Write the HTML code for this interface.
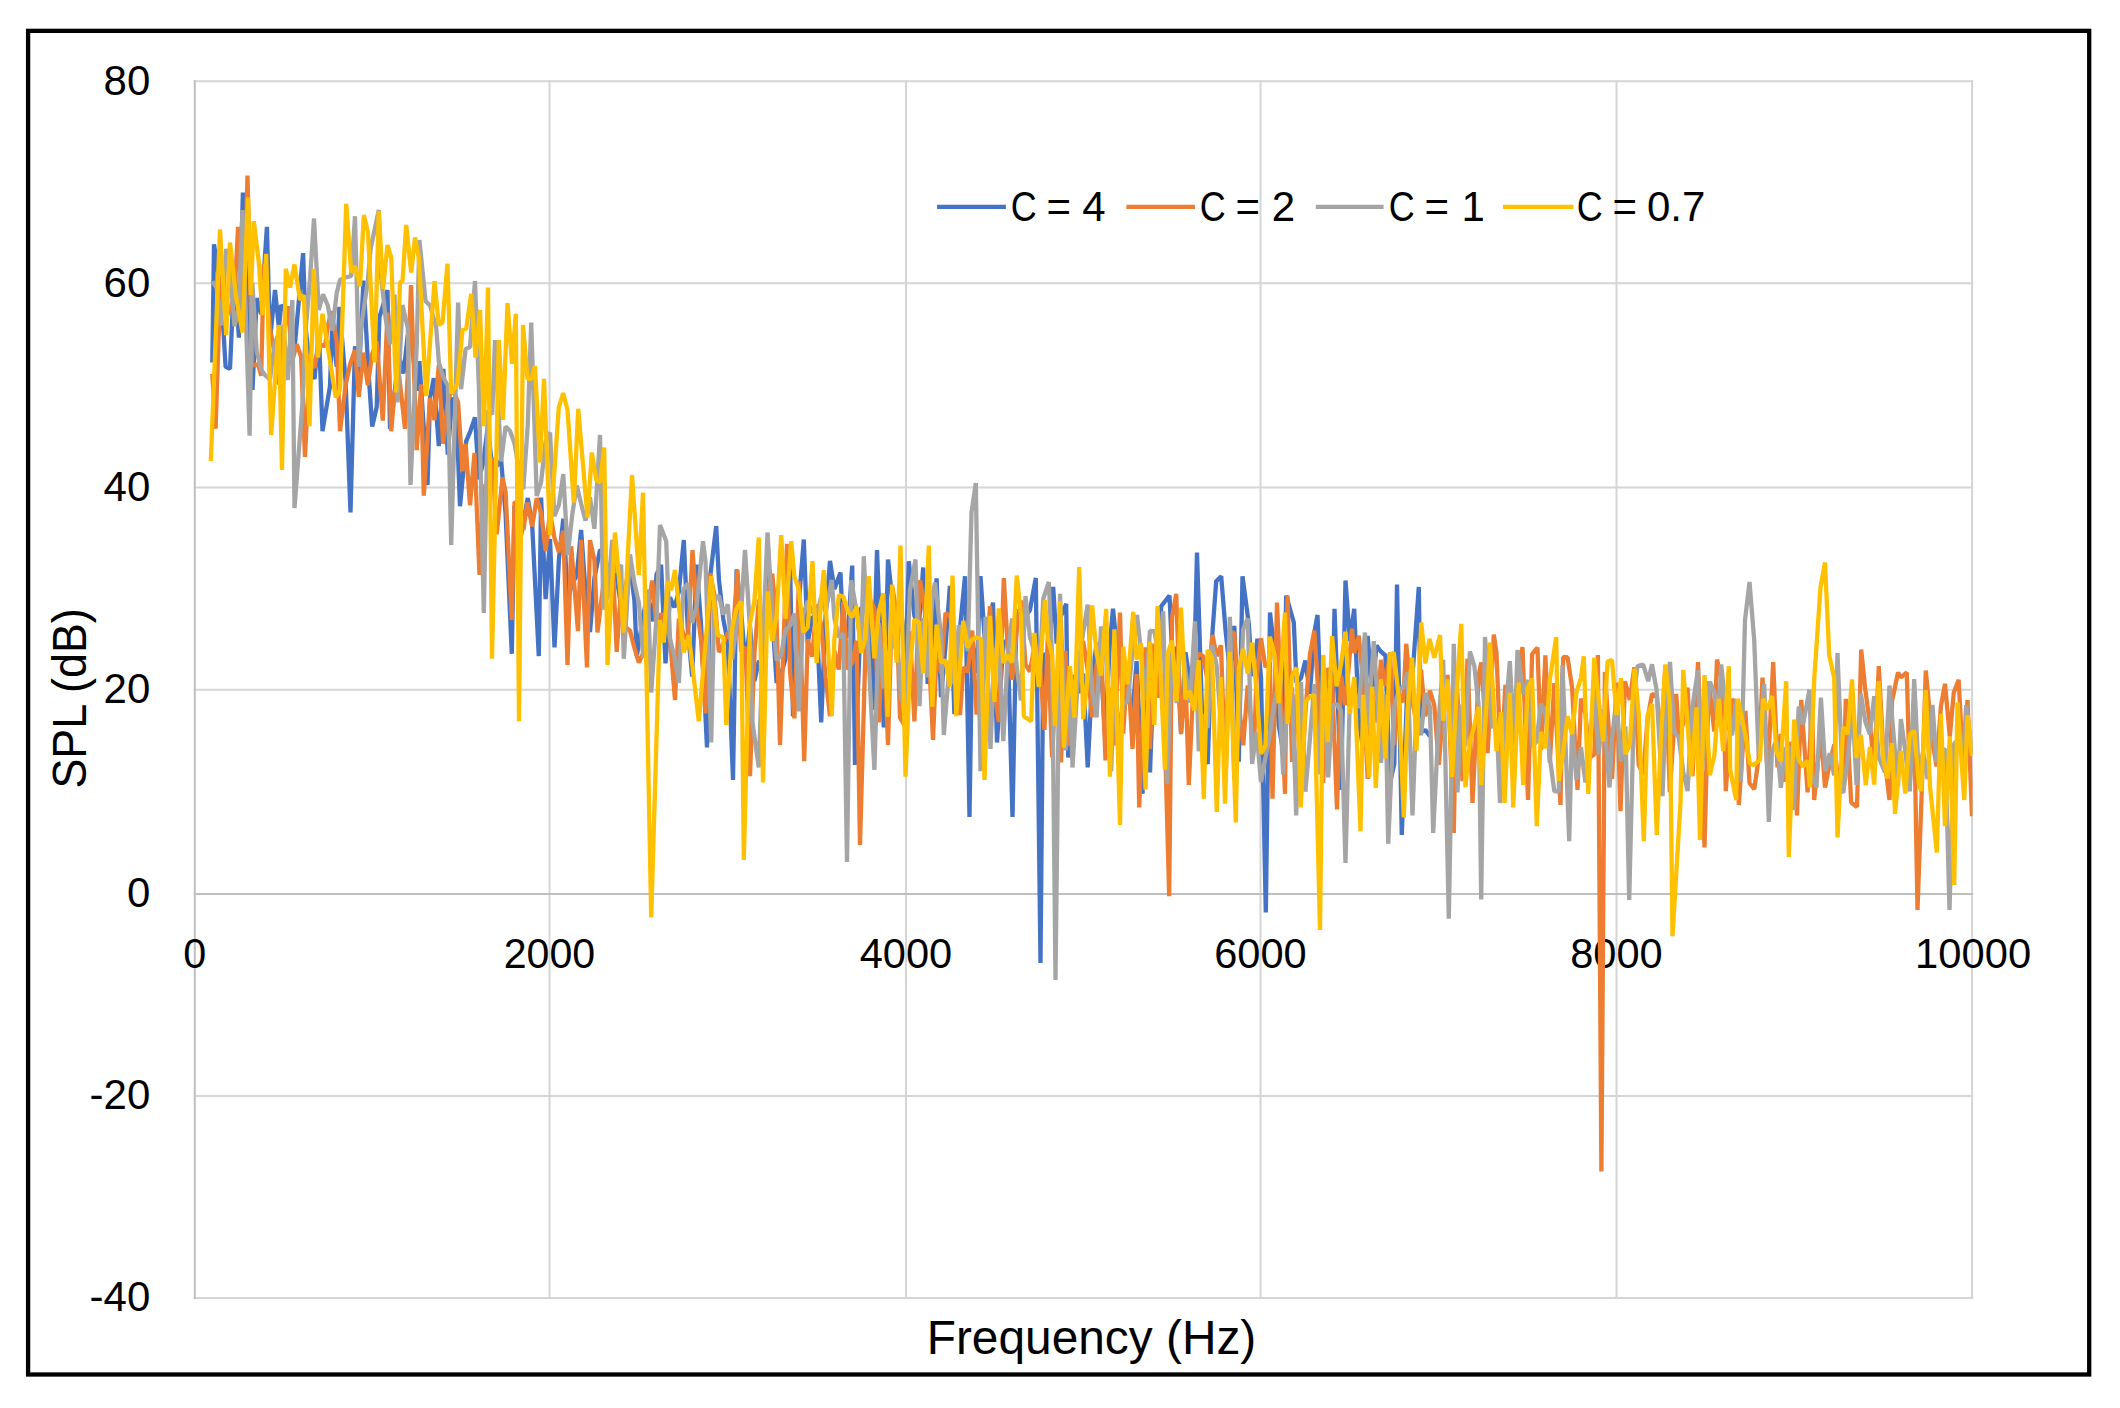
<!DOCTYPE html>
<html><head><meta charset="utf-8"><title>SPL vs Frequency</title>
<style>
html,body{margin:0;padding:0;background:#fff;}
body{width:2120px;height:1408px;overflow:hidden;font-family:"Liberation Sans",sans-serif;}
svg{display:block;}
text{font-family:"Liberation Sans",sans-serif;fill:#000;}
.tick text{font-size:42px;}
.leg text{font-size:42px;}
.title{font-size:48px;}
.grid line{stroke:#d5d5d5;stroke-width:2;}
.data polyline{fill:none;stroke-width:4.3;stroke-linejoin:bevel;stroke-linecap:butt;}
</style></head><body>
<svg width="2120" height="1408" viewBox="0 0 2120 1408">
<rect x="0" y="0" width="2120" height="1408" fill="#fff"/>
<rect x="28.1" y="30.85" width="2061.1" height="1343.65" fill="#fff" stroke="#000" stroke-width="4.3"/>
<g class="grid"><line x1="549.5" y1="80.3" x2="549.5" y2="1298.9"/><line x1="906.0" y1="80.3" x2="906.0" y2="1298.9"/><line x1="1260.5" y1="80.3" x2="1260.5" y2="1298.9"/><line x1="1616.5" y1="80.3" x2="1616.5" y2="1298.9"/><line x1="1972.1" y1="80.3" x2="1972.1" y2="1298.9"/><line x1="193.8" y1="81.25" x2="1973.1" y2="81.25"/><line x1="193.8" y1="283.3" x2="1973.1" y2="283.3"/><line x1="193.8" y1="487.5" x2="1973.1" y2="487.5"/><line x1="193.8" y1="689.7" x2="1973.1" y2="689.7"/><line x1="193.8" y1="1096.0" x2="1973.1" y2="1096.0"/><line x1="193.8" y1="1297.9" x2="1973.1" y2="1297.9"/>
<line x1="193.8" y1="894" x2="1973.1" y2="894" style="stroke:#bfbfbf;stroke-width:2"/>
<line x1="194.8" y1="80.3" x2="194.8" y2="1298.9" style="stroke:#bfbfbf;stroke-width:2"/>
</g>
<g class="tick"><text x="150.3" y="1311.1" text-anchor="end">-40</text><text x="150.3" y="1109.2" text-anchor="end">-20</text><text x="150.3" y="907.2" text-anchor="end">0</text><text x="150.3" y="702.9" text-anchor="end">20</text><text x="150.3" y="500.7" text-anchor="end">40</text><text x="150.3" y="296.5" text-anchor="end">60</text><text x="150.3" y="94.5" text-anchor="end">80</text><text x="194.8" y="968.3" text-anchor="middle" textLength="23" lengthAdjust="spacingAndGlyphs">0</text><text x="549.5" y="968.3" text-anchor="middle" textLength="91.5" lengthAdjust="spacingAndGlyphs">2000</text><text x="906.0" y="968.3" text-anchor="middle" textLength="92.5" lengthAdjust="spacingAndGlyphs">4000</text><text x="1260.5" y="968.3" text-anchor="middle" textLength="92.5" lengthAdjust="spacingAndGlyphs">6000</text><text x="1616.5" y="968.3" text-anchor="middle" textLength="92.5" lengthAdjust="spacingAndGlyphs">8000</text><text x="1973.1" y="968.3" text-anchor="middle" textLength="116" lengthAdjust="spacingAndGlyphs">10000</text></g>
<clipPath id="pc"><rect x="194.5" y="60" width="1778" height="1240"/></clipPath><g class="data" clip-path="url(#pc)">
<polyline points="212.3,362.5 214.0,244.4 221.2,292.7 225.6,366.8 230.0,368.8 234.5,267.7 238.9,337.7 242.9,192.5 247.8,302.4 252.5,390.0 256.7,298.1 261.2,314.2 266.9,226.9 270.0,340.3 275.0,290.0 278.9,327.7 281.2,305.0 287.8,314.2 292.3,335.4 295.0,343.8 303.1,253.1 305.6,327.6 310.0,366.8 314.5,379.1 318.9,332.3 322.5,431.2 330.0,386.2 332.3,323.2 336.7,366.9 339.4,306.9 345.6,381.3 350.5,512.5 355.0,346.2 358.9,375.2 363.5,280.6 368.1,366.2 372.2,426.5 376.7,406.9 379.4,317.5 387.5,290.0 390.0,429.0 394.5,392.8 398.9,356.0 403.4,373.5 407.8,335.0 412.2,344.8 416.7,390.7 419.4,361.2 427.5,485.0 430.0,397.9 433.8,378.1 438.8,446.2 443.4,368.9 447.8,454.6 452.2,397.5 456.7,422.1 460.0,506.2 466.2,441.2 470.0,432.1 475.0,417.5 478.9,479.3 483.3,462.4 487.8,426.5 492.2,467.0 496.7,466.1 501.1,459.8 505.6,513.8 511.8,653.8 514.5,505.9 518.9,547.9 523.3,521.8 527.8,498.0 532.2,525.6 538.8,656.2 541.1,497.6 545.6,599.2 550.0,539.0 554.5,647.5 558.9,559.8 563.3,518.7 567.8,599.7 572.2,582.9 576.7,576.0 581.1,530.0 585.5,591.4 590.0,632.2 594.4,577.8 600.0,550.0 603.3,551.3 607.8,596.9 612.2,548.4 616.7,578.0 621.1,605.9 625.5,586.5 630.0,565.4 634.4,600.3 636.8,656.2 643.3,615.1 647.8,593.5 652.2,621.4 656.6,574.2 661.1,564.9 665.5,663.3 670.0,597.4 674.4,607.5 678.9,591.4 683.8,540.0 687.8,629.3 692.2,676.6 696.6,564.6 701.1,626.0 707.0,747.5 710.0,577.9 716.2,526.2 718.9,579.3 723.3,619.1 727.8,643.0 733.0,780.0 736.6,569.4 741.1,611.6 745.5,664.7 750.0,626.3 754.4,681.0 758.9,660.7 763.3,674.4 767.7,570.7 772.2,614.9 776.6,682.9 781.1,674.3 785.5,658.6 790.0,560.1 793.0,716.2 798.9,601.8 803.8,539.5 807.7,643.2 812.2,616.8 816.6,618.3 821.2,722.5 825.5,617.2 830.0,560.9 834.4,589.1 840.5,572.5 843.3,635.6 847.7,636.5 852.2,565.6 855.0,765.0 861.1,607.9 865.5,607.6 870.0,624.1 872.5,710.0 877.0,550.0 883.8,727.5 888.0,559.5 892.2,598.5 896.6,650.7 901.1,605.8 905.5,667.7 908.8,561.2 914.4,615.9 918.8,626.4 923.2,567.5 927.7,684.0 932.2,649.6 936.6,578.3 941.0,697.1 945.5,646.0 949.9,585.9 954.4,714.1 958.8,640.7 965.0,576.2 969.5,817.0 972.2,642.0 976.6,673.2 980.5,576.2 985.5,650.7 989.9,620.8 993.0,602.5 997.0,742.5 1003.3,642.9 1007.7,640.0 1012.5,817.0 1016.6,610.3 1021.0,616.9 1025.0,617.0 1029.9,610.3 1035.8,578.0 1040.5,963.0 1043.3,652.9 1047.7,668.4 1053.2,587.0 1056.6,643.7 1061.0,616.0 1066.2,603.8 1068.2,757.5 1074.4,675.0 1078.8,692.9 1083.2,673.5 1087.7,767.5 1092.1,680.2 1096.6,642.6 1101.0,663.9 1105.0,736.2 1109.9,643.7 1113.0,608.8 1118.8,667.7 1123.2,660.2 1127.7,687.1 1132.1,718.7 1136.6,661.2 1142.5,793.8 1145.5,678.8 1150.0,772.5 1154.3,655.7 1158.8,661.5 1161.2,606.2 1169.5,595.5 1172.1,652.6 1176.6,647.7 1181.0,732.4 1185.5,652.3 1189.9,681.6 1194.3,661.2 1197.0,552.5 1203.2,750.1 1207.7,764.0 1212.1,637.6 1216.2,581.2 1221.2,576.2 1225.5,629.8 1229.9,671.9 1234.3,625.9 1238.8,761.6 1242.5,576.2 1248.8,623.8 1252.1,676.2 1257.5,638.8 1261.0,677.1 1265.8,912.5 1270.0,612.5 1274.3,650.6 1278.8,725.4 1283.2,751.8 1286.2,595.5 1293.8,622.5 1296.5,683.0 1301.0,678.0 1305.4,660.6 1309.9,693.9 1314.3,632.8 1317.5,615.0 1323.2,765.3 1327.7,699.3 1332.1,727.4 1334.5,608.8 1341.0,789.8 1345.5,580.5 1349.9,641.1 1354.2,608.8 1358.8,718.7 1363.2,750.2 1367.7,635.8 1372.1,694.8 1376.5,645.6 1381.0,651.7 1385.4,655.5 1389.9,783.4 1394.3,763.8 1397.0,584.5 1401.8,835.0 1407.6,678.8 1412.1,681.1 1418.8,587.0 1421.0,732.0 1425.4,730.1 1429.9,736.3" stroke="#4472C4"/>
<polyline points="212.3,373.8 215.6,428.8 220.6,276.2 225.6,319.2 230.1,308.6 234.4,297.5 238.1,226.9 243.4,328.8 247.5,175.6 252.3,365.5 258.1,364.4 261.2,375.7 263.8,263.8 270.0,328.7 274.5,352.6 278.9,384.5 283.4,331.8 287.8,306.2 292.5,360.0 296.7,344.2 301.1,356.5 305.0,456.9 310.0,353.7 314.5,368.2 318.9,344.0 325.0,346.2 327.8,326.7 331.2,311.2 336.7,341.1 340.0,431.2 345.6,385.4 350.0,364.6 355.0,350.0 358.8,396.9 363.4,352.6 367.8,385.1 372.2,353.8 376.7,341.3 382.8,420.6 387.5,312.5 391.2,431.2 394.5,393.5 398.9,373.7 405.0,428.8 407.8,373.1 411.0,285.0 416.7,450.2 421.1,384.3 423.8,495.6 430.0,397.9 434.4,420.0 438.8,365.0 443.1,443.8 447.8,401.4 452.2,387.5 458.1,402.5 462.5,471.2 465.6,443.8 470.0,505.2 474.5,453.0 479.5,575.0 483.3,487.0 487.8,484.0 492.2,457.7 496.7,534.2 502.5,477.5 505.6,491.9 511.8,620.0 514.5,502.1 518.9,503.4 523.3,530.1 527.5,502.5 532.2,526.4 536.7,498.2 541.1,512.9 545.6,550.9 550.0,511.7 554.4,537.6 558.9,552.2 563.3,530.6 567.5,665.0 571.2,546.2 578.0,631.2 581.1,539.9 587.0,667.5 590.0,540.1 594.4,560.1 597.5,632.5 603.3,584.7 607.8,593.6 612.2,552.2 616.7,651.9 621.1,589.5 625.5,627.0 630.0,630.6 634.4,647.8 638.9,662.7 643.3,652.9 647.8,611.1 652.2,580.5 656.6,627.8 661.1,613.3 665.5,622.6 670.0,638.8 675.0,700.0 678.9,618.7 683.3,633.3 687.8,641.5 692.5,550.0 696.6,606.7 701.1,640.2 705.5,713.5 710.0,573.2 714.4,594.6 718.9,652.1 723.3,644.1 727.8,632.5 732.2,642.4 737.5,570.0 741.1,651.7 745.5,647.1 750.0,776.2 754.4,653.1 758.9,599.8 763.3,651.3 767.7,593.5 772.2,573.8 776.6,620.5 780.0,745.0 787.0,543.8 790.0,671.6 794.4,718.4 798.9,581.0 804.2,761.2 807.7,639.2 812.2,656.6 816.6,604.4 821.1,624.2 825.5,676.5 830.0,716.2 834.4,651.0 838.8,669.6 843.3,602.5 847.7,669.5 852.2,662.9 856.6,640.7 860.0,845.0 865.5,647.9 870.0,599.7 874.4,608.5 878.8,722.5 883.3,625.2 888.0,745.0 892.5,587.5 896.6,614.2 900.0,717.5 907.0,730.0 909.9,631.3 914.4,721.3 920.0,580.0 923.3,599.3 927.7,629.5 933.0,740.0 936.6,653.0 941.0,673.4 945.5,613.1 949.9,615.3 954.4,641.7 960.0,715.0 963.3,667.1 967.7,672.0 972.2,630.6 976.6,714.6 981.0,674.3 985.5,671.4 990.0,606.2 994.4,689.8 998.8,722.0 1003.8,578.0 1007.7,647.6 1012.1,679.7 1016.6,632.2 1021.0,600.5 1025.5,664.3 1029.9,671.6 1034.4,646.3 1038.8,647.5 1044.5,730.0 1047.7,638.5 1052.1,757.3 1056.6,669.3 1061.0,762.5 1065.5,650.8 1069.9,745.8 1074.4,704.8 1078.8,657.9 1083.2,641.0 1087.7,670.2 1092.1,717.3 1096.6,665.4 1101.0,645.5 1105.5,760.4 1109.9,687.6 1114.4,745.5 1120.0,612.5 1123.2,733.6 1127.7,663.0 1132.5,748.8 1136.6,674.1 1139.2,807.5 1145.5,647.3 1149.9,749.0 1154.3,643.5 1158.8,697.7 1163.2,674.3 1169.2,896.2 1172.1,617.0 1176.2,593.8 1181.0,734.2 1185.5,677.0 1188.8,785.0 1194.3,664.6 1198.8,653.7 1203.2,656.1 1207.7,681.9 1212.5,635.0 1216.6,656.2 1221.0,645.4 1225.5,780.6 1230.0,632.5 1234.3,632.8 1238.8,703.2 1243.2,745.3 1247.7,685.4 1253.8,750.0 1256.6,678.3 1261.0,638.2 1265.4,667.1 1269.9,662.2 1272.5,798.8 1277.0,602.5 1285.0,793.8 1287.5,595.5 1292.1,761.9 1296.5,694.4 1301.0,790.5 1305.4,712.2 1309.9,654.9 1314.3,630.7 1318.8,700.9 1323.2,782.8 1327.7,668.0 1332.1,680.4 1337.0,809.5 1341.0,675.8 1345.4,705.2 1352.0,628.8 1354.3,653.1 1358.8,635.8 1363.2,683.2 1367.7,779.0 1372.1,689.8 1376.5,722.4 1381.0,659.9 1385.4,685.9 1390.0,652.5 1394.3,744.7 1398.8,693.7 1403.2,702.2 1406.2,643.8 1412.1,701.8 1416.5,721.1 1421.0,669.7 1425.4,716.4 1429.9,690.7 1434.3,705.4 1438.8,764.9 1443.2,709.4 1447.6,674.9 1453.8,833.0 1456.5,678.6 1462.5,781.2 1467.5,658.8 1469.9,724.8 1472.5,803.0 1478.7,675.4 1481.2,662.5 1487.6,753.2 1493.8,634.5 1496.5,652.9 1501.0,768.5 1505.4,684.8 1509.8,714.6 1514.3,707.1 1518.7,672.1 1522.5,647.0 1528.0,800.0 1532.1,654.0 1537.5,647.5 1541.0,750.1 1545.4,655.3 1549.8,762.7 1554.3,683.1 1560.5,805.0 1563.2,657.0 1567.6,657.5 1572.1,687.6 1577.5,790.0 1581.0,698.5 1585.4,713.5 1589.8,757.7 1594.3,754.3 1597.9,655.0 1601.4,1171.4 1604.9,672.0 1612.1,779.0 1616.5,682.5 1620.5,811.2 1625.0,681.2 1629.8,699.9 1634.3,667.3 1638.7,764.9 1643.2,774.8 1647.6,718.3 1652.0,694.0 1657.0,696.2 1660.9,743.9 1665.4,665.0 1669.8,792.2 1676.2,693.8 1678.7,735.8 1683.2,723.4 1687.5,687.5 1692.5,776.2 1698.0,662.0 1700.9,734.6 1704.5,847.5 1708.8,681.2 1714.3,731.6 1717.0,659.5 1723.2,685.7 1725.8,791.2 1732.0,700.0 1736.5,701.2 1738.8,805.0 1745.4,710.9 1749.5,783.0 1754.3,789.2 1758.7,758.1 1762.5,677.5 1767.6,775.1 1773.2,662.0 1777.5,767.5 1780.9,734.0 1785.4,781.7 1789.8,742.3 1794.2,753.1 1797.0,815.5 1801.2,700.0 1807.6,792.3 1812.0,704.3 1814.2,800.0 1820.9,732.1 1825.0,787.5 1829.8,763.2 1834.2,744.4 1838.7,784.8 1843.1,793.0 1845.8,698.8 1851.2,802.5 1857.0,807.0 1861.2,649.5 1865.3,689.8 1869.8,722.9 1874.2,767.5 1878.8,666.2 1883.1,746.7 1889.5,800.0 1892.0,701.2 1898.0,672.5 1900.9,677.3 1906.8,672.5 1909.8,782.1 1914.2,722.6 1917.5,910.0 1923.1,753.0 1925.8,670.5 1932.0,737.3 1936.5,766.4 1940.9,706.3 1945.0,683.8 1949.8,736.5 1953.8,692.5 1958.7,679.9 1963.1,764.3 1967.5,700.0 1972.0,816.2" stroke="#ED7D31"/>
<polyline points="212.3,281.4 216.7,287.8 221.2,325.4 226.2,248.8 230.1,272.3 234.5,326.4 238.9,306.8 242.5,210.0 249.6,435.6 252.3,282.9 256.7,351.4 261.2,369.8 265.6,375.7 270.0,379.5 274.5,344.3 278.9,333.0 283.4,326.1 287.8,380.0 292.3,300.1 294.5,508.0 302.5,402.5 305.6,330.0 310.0,279.1 314.0,218.5 318.8,310.0 323.1,294.4 327.8,305.5 332.3,330.7 336.7,293.0 340.0,280.0 345.6,277.4 351.2,276.2 355.0,216.2 358.9,366.8 361.2,326.2 367.8,281.1 370.6,248.8 378.8,210.0 381.1,277.0 385.6,318.2 390.0,344.1 394.5,294.6 397.5,402.5 402.5,305.0 407.8,328.0 410.5,485.0 416.7,346.1 419.4,240.0 425.6,301.2 430.0,305.4 436.2,327.5 438.9,362.7 443.4,377.3 447.8,386.1 451.2,545.0 458.1,302.5 461.1,389.3 465.6,349.2 470.0,346.9 475.0,281.2 478.9,387.6 483.8,613.0 487.8,410.2 492.2,414.5 495.0,340.0 501.1,461.5 505.6,426.5 510.0,430.9 514.5,443.4 518.9,468.6 523.3,489.4 527.8,424.1 531.2,322.5 536.7,496.0 541.1,482.0 545.6,441.7 550.0,432.5 554.4,516.1 558.9,504.8 563.3,474.0 567.8,554.8 572.2,515.0 576.7,485.5 581.1,503.8 585.5,520.7 590.0,497.3 594.4,528.8 600.0,435.0 603.3,609.4 607.8,595.3 612.2,539.8 616.7,572.8 621.1,564.7 623.8,658.8 630.0,554.4 634.4,582.9 638.9,603.1 643.3,657.9 647.8,589.3 651.2,692.5 656.6,616.5 660.0,525.0 666.2,541.2 670.0,638.9 674.4,656.6 678.9,682.9 683.3,589.4 687.8,583.6 692.2,622.9 696.6,606.0 703.0,541.2 705.5,561.4 711.2,742.5 714.4,600.6 718.9,595.5 723.3,614.5 727.8,604.5 732.2,659.2 736.6,624.4 741.1,612.3 745.0,550.0 750.0,628.6 752.5,722.5 758.8,767.5 763.3,631.6 767.5,532.5 772.2,612.6 776.6,660.4 781.1,655.0 785.5,630.0 790.0,625.8 794.4,613.5 798.9,711.3 803.3,614.6 807.7,601.0 812.2,611.7 816.6,616.8 821.1,597.0 825.5,611.4 831.8,580.0 834.4,618.3 838.8,637.3 843.3,633.5 847.0,862.0 851.2,580.0 856.6,611.3 861.1,648.9 863.8,556.2 870.0,685.4 874.4,770.0 878.8,623.2 883.3,688.3 887.7,655.8 892.2,646.1 896.6,632.8 901.1,699.1 905.5,704.9 909.9,591.0 915.5,559.5 919.5,706.2 923.3,617.8 927.7,677.3 932.2,598.4 935.0,582.5 941.0,635.1 943.8,735.0 949.9,660.3 954.4,683.8 958.8,625.4 963.3,634.4 967.7,651.0 971.5,512.5 975.8,483.0 980.5,771.2 985.5,616.7 990.5,748.8 994.4,652.0 998.8,644.2 1003.3,741.1 1007.7,655.8 1012.1,618.4 1016.6,666.1 1021.0,700.5 1025.5,596.0 1029.9,637.0 1034.4,652.0 1038.8,685.7 1043.3,598.6 1048.8,582.0 1052.1,657.2 1055.5,980.0 1060.0,593.8 1065.5,750.3 1069.9,670.6 1072.5,767.5 1078.8,663.5 1083.2,632.1 1087.7,604.7 1092.1,690.3 1096.6,717.3 1101.0,626.6 1105.5,641.6 1111.2,771.2 1114.4,670.7 1118.8,732.5 1123.2,704.1 1127.7,701.5 1132.1,655.1 1137.0,615.0 1141.0,651.2 1145.5,700.1 1149.9,630.9 1154.3,631.2 1158.8,655.4 1163.2,611.2 1167.0,783.8 1172.1,647.8 1176.6,703.1 1181.0,634.1 1185.5,671.7 1189.9,702.7 1195.0,621.2 1198.8,751.2 1203.2,714.3 1207.7,728.0 1212.1,644.9 1216.6,665.1 1221.0,724.6 1225.5,762.6 1229.9,616.9 1234.3,779.5 1238.8,722.1 1243.2,629.4 1247.7,618.4 1252.1,763.9 1256.6,731.9 1261.0,782.0 1265.4,757.6 1269.9,734.6 1274.3,702.9 1278.8,683.9 1283.2,774.4 1287.7,699.1 1292.1,687.3 1296.2,815.5 1301.0,682.1 1305.4,791.7 1309.9,738.8 1314.3,684.1 1318.8,774.5 1323.2,669.7 1328.2,777.5 1332.1,705.7 1336.5,704.0 1341.0,710.7 1345.5,863.0 1349.9,694.0 1354.3,690.4 1358.8,708.0 1365.0,632.5 1367.7,726.6 1373.8,641.2 1376.5,684.3 1381.0,762.8 1385.4,694.7 1388.2,843.8 1394.3,706.7 1398.8,690.7 1403.2,686.8 1407.6,672.3 1412.5,815.5 1416.5,707.2 1421.0,735.3 1425.4,693.0 1429.9,706.5 1433.2,833.0 1438.8,719.1 1443.2,659.8 1448.8,918.8 1453.8,643.8 1457.5,792.5 1461.0,704.5 1465.4,746.3 1469.9,651.5 1474.3,665.6 1478.7,706.2 1481.2,899.5 1485.0,637.0 1492.1,728.2 1496.5,718.8 1500.0,803.0 1505.4,715.6 1509.8,661.1 1514.3,745.8 1517.5,650.0 1523.2,694.2 1527.6,679.9 1532.1,746.5 1536.5,741.6 1541.0,703.5 1545.4,714.4 1549.8,757.2 1554.3,791.1 1558.7,791.6 1562.5,665.0 1569.2,841.2 1572.1,725.2 1576.5,779.8 1581.0,747.2 1585.4,782.4 1589.8,742.4 1594.3,694.5 1598.7,754.4 1603.2,709.4 1609.5,787.5 1612.1,736.8 1616.5,700.7 1620.9,761.4 1625.4,726.4 1629.2,900.0 1634.3,691.2 1637.5,666.2 1643.2,664.7 1648.2,681.2 1652.0,664.3 1656.5,689.6 1662.5,796.2 1665.4,717.6 1670.0,662.0 1674.3,732.5 1678.7,736.9 1683.2,771.6 1687.6,791.1 1692.0,709.6 1698.0,670.0 1700.9,783.2 1705.4,730.2 1709.8,681.8 1714.3,691.9 1718.7,726.2 1721.2,664.5 1727.6,726.9 1732.0,735.3 1736.5,699.6 1740.9,781.7 1745.0,620.0 1749.5,582.0 1754.2,640.0 1758.7,756.3 1764.2,683.8 1768.8,822.0 1772.0,751.2 1776.5,740.1 1780.9,787.8 1785.4,749.0 1789.8,747.3 1793.8,810.0 1798.7,706.5 1803.1,724.4 1809.5,689.5 1812.0,775.1 1816.5,787.6 1820.9,697.6 1825.4,771.4 1829.8,753.2 1834.2,775.3 1837.5,653.0 1843.1,793.0 1847.6,761.8 1852.5,705.0 1856.5,784.8 1860.9,693.8 1865.3,721.6 1869.8,734.2 1874.2,696.2 1878.7,757.3 1885.0,772.5 1889.5,685.5 1892.0,716.1 1898.0,786.2 1900.9,719.0 1905.3,751.4 1909.8,791.4 1914.2,679.2 1918.7,773.4 1923.1,752.1 1927.6,779.2 1932.5,705.0 1936.5,762.0 1940.9,748.9 1945.3,749.9 1949.5,910.0 1954.2,743.5 1958.7,739.3 1963.1,763.2 1966.2,705.0 1972.0,753.6" stroke="#A5A5A5"/>
<polyline points="210.8,461.2 220.0,229.5 226.2,335.0 230.0,242.5 236.2,297.5 242.5,332.5 248.0,197.5 250.8,295.0 253.8,221.2 258.8,262.5 262.5,315.0 266.2,253.8 271.2,435.0 278.8,325.0 282.0,470.0 285.8,268.8 290.0,287.5 294.5,264.5 300.0,300.0 303.8,295.0 309.5,426.2 313.8,268.8 318.0,357.5 322.5,313.8 335.8,397.5 340.0,390.0 346.2,203.8 351.2,272.5 355.0,266.2 360.0,286.2 363.8,215.0 368.0,232.5 374.5,362.5 378.8,211.2 383.0,288.8 387.5,245.0 391.2,257.5 396.2,392.5 400.0,282.5 402.5,281.2 406.2,225.0 411.2,272.5 415.0,237.5 418.8,257.5 426.2,396.2 434.5,281.2 438.8,325.0 442.5,322.5 447.5,263.8 451.2,393.8 457.5,383.8 462.5,330.0 466.2,328.8 471.2,293.8 475.5,357.5 480.0,310.0 484.0,426.2 488.0,287.5 492.0,658.8 498.8,340.0 503.0,420.0 507.5,303.0 512.0,363.8 515.8,313.8 519.0,721.2 523.0,325.0 527.5,378.8 531.2,378.8 535.0,366.2 540.0,462.5 544.0,378.8 550.0,535.0 558.8,407.5 563.2,393.0 567.5,410.0 573.8,502.5 578.2,408.8 587.5,517.5 591.8,452.5 596.2,480.0 600.0,482.5 604.2,447.5 607.5,665.0 615.0,532.5 623.8,632.5 632.0,475.0 638.8,575.0 643.0,492.5 651.2,917.5 660.0,620.0 663.8,642.5 667.5,581.2 671.2,590.0 675.0,570.0 683.8,652.5 688.8,635.0 698.8,721.2 711.2,576.2 717.5,635.0 723.3,637.2 726.2,725.0 732.2,628.4 736.6,608.5 741.1,601.5 743.8,860.0 750.0,623.2 754.4,601.0 758.8,537.5 763.0,782.5 767.7,591.5 772.2,640.7 776.6,615.6 781.2,535.0 785.5,618.8 791.2,541.2 794.4,576.6 798.9,589.7 803.3,632.2 807.7,627.4 812.5,561.2 816.6,663.0 821.1,600.7 823.8,570.0 831.8,716.2 834.4,639.3 838.8,595.1 843.3,596.7 847.7,610.9 852.2,617.2 856.6,606.7 861.1,653.0 865.5,638.4 868.8,576.2 874.4,658.4 878.8,611.4 883.3,593.3 887.7,717.0 892.2,584.6 896.6,662.7 900.5,545.5 905.5,776.7 909.9,670.0 914.4,619.5 918.8,622.2 923.3,673.3 928.8,545.5 932.2,706.8 936.6,624.7 941.0,662.4 945.5,660.5 949.9,686.7 952.5,575.5 956.2,716.2 963.3,620.9 967.7,647.5 972.2,639.3 976.6,637.5 981.0,639.1 984.5,780.0 989.9,615.9 994.4,701.9 998.8,608.4 1003.3,663.0 1007.7,655.1 1012.1,662.4 1016.8,575.5 1021.0,615.6 1023.8,716.2 1031.2,721.2 1034.4,632.9 1038.8,687.0 1045.0,600.0 1047.7,637.8 1052.1,654.9 1055.0,726.2 1060.0,601.2 1063.8,747.5 1069.9,666.1 1074.4,717.6 1079.2,567.0 1083.2,719.3 1087.7,677.1 1092.1,605.4 1096.6,653.5 1101.0,675.5 1106.2,608.8 1109.9,776.8 1114.4,629.3 1120.0,825.0 1123.2,646.5 1127.7,684.3 1133.2,612.0 1136.6,659.5 1141.0,643.1 1145.5,789.6 1149.9,641.9 1154.3,725.0 1157.5,606.2 1165.0,770.0 1167.7,653.7 1172.1,640.7 1176.6,701.5 1181.0,607.6 1185.5,699.2 1189.9,691.0 1194.3,710.5 1198.8,660.2 1203.8,798.8 1207.7,649.8 1212.1,658.0 1216.8,812.0 1221.0,677.0 1225.0,803.8 1229.9,651.7 1235.8,822.5 1238.8,668.4 1243.2,649.0 1247.7,673.5 1252.1,642.6 1256.6,690.7 1261.0,753.8 1265.4,745.7 1269.9,636.7 1274.3,654.0 1278.8,703.2 1285.0,612.5 1287.7,723.9 1292.1,675.9 1296.5,667.8 1300.8,807.5 1305.4,701.3 1309.9,696.9 1314.3,694.9 1320.0,930.0 1323.2,654.9 1327.7,741.8 1332.1,636.2 1336.5,686.4 1341.0,664.3 1345.4,631.7 1349.9,714.0 1354.3,677.0 1360.5,831.2 1363.2,694.7 1369.2,777.5 1372.1,686.5 1375.8,788.0 1381.0,679.4 1385.4,758.3 1389.9,655.0 1393.8,652.5 1398.8,697.3 1403.8,817.5 1407.6,707.6 1412.1,657.5 1416.5,750.7 1421.2,622.5 1425.4,663.5 1429.5,638.8 1434.3,657.7 1440.0,635.0 1443.2,720.7 1447.6,679.1 1452.1,777.1 1456.5,695.1 1461.2,623.8 1465.4,787.1 1469.9,742.6 1474.3,725.6 1478.7,706.7 1481.2,785.0 1487.6,688.1 1490.0,642.5 1496.5,751.2 1501.0,712.2 1504.5,803.0 1509.8,692.8 1513.2,807.5 1518.7,682.6 1523.2,785.0 1527.6,688.5 1532.1,678.6 1536.8,826.2 1541.0,731.8 1545.4,748.3 1549.8,680.0 1556.2,637.0 1558.7,780.9 1563.2,752.3 1567.6,716.3 1572.1,734.1 1576.5,691.8 1581.0,677.8 1583.8,656.2 1588.2,793.8 1594.3,657.8 1598.7,700.5 1603.2,741.5 1607.6,661.5 1612.0,660.0 1616.5,715.2 1620.9,678.2 1625.4,754.0 1629.8,744.9 1634.5,668.8 1638.7,713.3 1643.8,841.2 1647.6,715.0 1652.0,704.0 1656.8,835.0 1660.9,738.6 1665.4,664.4 1669.8,703.8 1672.5,936.2 1680.5,802.5 1683.2,669.8 1687.6,723.8 1691.2,776.2 1696.5,707.4 1700.0,840.0 1704.5,675.0 1709.8,775.2 1714.3,755.5 1718.7,698.8 1723.2,751.1 1728.8,666.2 1730.2,770.0 1736.2,800.0 1737.8,698.8 1745.4,734.4 1749.8,763.4 1753.8,765.0 1760.0,760.0 1763.1,698.7 1767.6,709.8 1772.0,695.8 1776.5,751.3 1780.9,761.3 1786.2,681.2 1788.8,857.0 1794.2,719.6 1798.7,759.7 1803.1,766.7 1807.6,760.5 1810.0,787.5 1814.2,679.5 1820.5,587.5 1825.0,562.5 1829.2,655.0 1834.2,678.2 1837.5,837.5 1843.1,727.1 1847.6,734.0 1852.0,679.4 1856.5,757.8 1860.9,734.9 1865.8,785.0 1869.8,747.0 1874.2,784.6 1878.7,681.2 1883.1,758.0 1887.6,778.6 1892.0,743.1 1895.0,813.8 1900.9,751.0 1905.3,793.6 1909.8,734.3 1914.2,731.0 1918.7,782.9 1921.2,791.2 1925.8,690.0 1930.0,786.2 1936.8,852.5 1940.9,713.8 1945.0,826.2 1949.8,736.6 1954.2,885.0 1957.5,702.5 1964.2,800.0 1967.6,715.2 1972.0,755.8" stroke="#FFC000"/>
</g>
<g class="leg"><line x1="937.1" y1="206.9" x2="1005.9" y2="206.9" stroke="#4472C4" stroke-width="4.3"/><text y="220.6"><tspan x="1010.7" textLength="26" lengthAdjust="spacingAndGlyphs">C</tspan><tspan x="1040.0 1046.6 1074.0 1082.2"> = 4</tspan></text><line x1="1126.4" y1="206.9" x2="1195" y2="206.9" stroke="#ED7D31" stroke-width="4.3"/><text y="220.6"><tspan x="1199.7" textLength="26" lengthAdjust="spacingAndGlyphs">C</tspan><tspan x="1229.0 1235.6 1263.0 1271.7"> = 2</tspan></text><line x1="1315.8" y1="206.9" x2="1383.6" y2="206.9" stroke="#A5A5A5" stroke-width="4.3"/><text y="220.6"><tspan x="1388.7" textLength="26" lengthAdjust="spacingAndGlyphs">C</tspan><tspan x="1418.0 1424.6 1452.0 1461.5"> = 1</tspan></text><line x1="1503" y1="206.9" x2="1573.4" y2="206.9" stroke="#FFC000" stroke-width="4.3"/><text y="220.6"><tspan x="1576.7" textLength="26" lengthAdjust="spacingAndGlyphs">C</tspan><tspan x="1606.0 1612.6 1640.0 1647.0"> = 0.7</tspan></text></g>
<text class="title" x="926.7" y="1354.3" textLength="329.6" lengthAdjust="spacingAndGlyphs">Frequency (Hz)</text>
<text class="title" transform="translate(86.2,788.6) rotate(-90)" textLength="180.4" lengthAdjust="spacingAndGlyphs">SPL (dB)</text>
</svg>
</body></html>
